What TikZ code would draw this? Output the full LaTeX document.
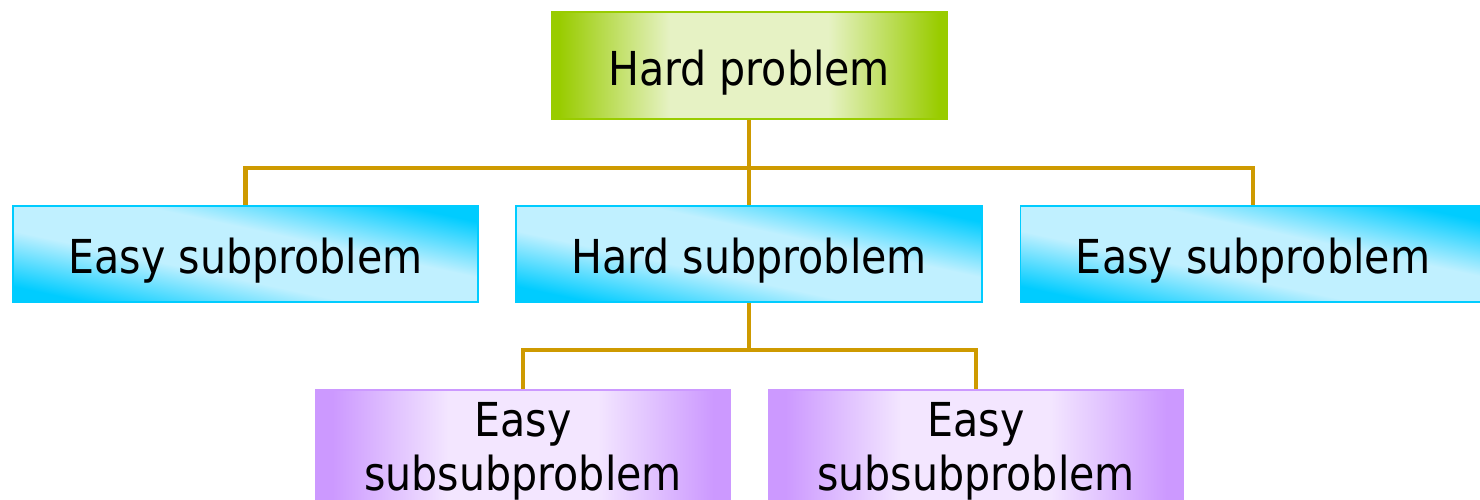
\documentclass[tikz,border=0pt]{standalone}
\usepackage{fontspec}
\setmainfont{DejaVu Sans}[FakeStretch=0.88]

\definecolor{Gold}{RGB}{206,154,0}
\definecolor{Gruen}{RGB}{153,204,0}
\definecolor{Hellgruen}{RGB}{230,242,196}
\definecolor{Cyan}{RGB}{0,204,255}
\definecolor{Hellcyan}{RGB}{192,240,255}
\definecolor{Lila}{RGB}{204,153,255}
\definecolor{Helllila}{RGB}{243,230,255}

% Farbverlaeufe mit hellem Mittelteil
\pgfdeclarehorizontalshading{gruenverlauf}{100bp}{color(0bp)=(Gruen); color(26bp)=(Gruen);
    color(40bp)=(Hellgruen); color(60bp)=(Hellgruen); color(74bp)=(Gruen); color(100bp)=(Gruen)}
\pgfdeclarehorizontalshading{cyanverlauf}{100bp}{color(0bp)=(Cyan); color(25bp)=(Cyan);
    color(42bp)=(Hellcyan); color(58bp)=(Hellcyan); color(75bp)=(Cyan); color(100bp)=(Cyan)}
\pgfdeclarehorizontalshading{lilaverlauf}{100bp}{color(0bp)=(Lila); color(27bp)=(Lila);
    color(41bp)=(Helllila); color(59bp)=(Helllila); color(73bp)=(Lila); color(100bp)=(Lila)}

\begin{document}
\begin{tikzpicture}[x=0.01cm, y=-0.01cm,
    font=\fontsize{13.3pt}{15.4pt}\selectfont,
    Kasten/.style={draw, line width=0.5pt, inner sep=0pt},
    Haupt/.style={Kasten, draw=Gruen, shading=gruenverlauf, minimum width=3.95cm,
        text height=0.73cm, text depth=0.34cm},
    Teil/.style={Kasten, draw=Cyan, shading=cyanverlauf, shading angle=78,
        minimum width=4.65cm, text height=0.67cm, text depth=0.29cm},
    Unterteil/.style={Kasten, draw=Lila, shading=lilaverlauf,
        minimum width=4.14cm, minimum height=1.22cm, align=center},
    Leiter/.style={draw=Gold, line width=0.045cm}
    ]
    \useasboundingbox (0,0) rectangle (1480,499);
    \clip (0,0) rectangle (1480,499);

    % Kaesten
    \node[Haupt] (HP) at (749,65.5) {Hard problem};
    \node[Teil] (ES1) at (245.5,254) {Easy subproblem};
    \node[Teil] (HS) at (749,254) {Hard subproblem};
    \node[Teil] (ES2) at (1253,254) {Easy subproblem};
    \node[Unterteil] (ESS1) at (523,451) {Easy\\subsubproblem};
    \node[Unterteil] (ESS2) at (976,451) {Easy\\subsubproblem};

    % Verzweigungen
    \coordinate (B1) at (749,168);
    \coordinate (B2) at (749,350);

    % Leiter
    \draw[Leiter] (HP.south) -- (B1) -| (ES1.north);
    \draw[Leiter] (B1) -| (ES2.north);
    \draw[Leiter] (B1) -- (HS.north);
    \draw[Leiter] (HS.south) -- (B2) -| (ESS1.north);
    \draw[Leiter] (B2) -| (ESS2.north);
\end{tikzpicture}
\end{document}
